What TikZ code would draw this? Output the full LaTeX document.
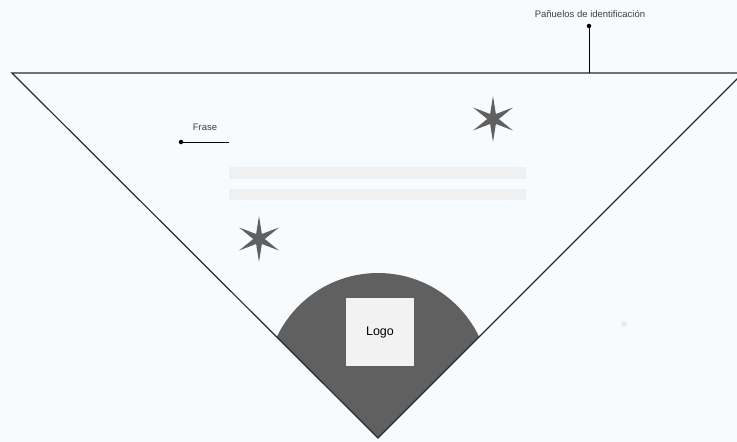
\documentclass[tikz,border=0pt]{standalone}
\usepackage{fontspec}
\setmainfont{Liberation Sans}
\usetikzlibrary{shapes.geometric}
\definecolor{bgc}{HTML}{F7FBFE}
\definecolor{darkf}{HTML}{606060}
\definecolor{barc}{HTML}{F0F0F0}
\definecolor{logoc}{HTML}{F2F2F2}
\definecolor{linec}{HTML}{2A2A2A}
\tikzset{
  edge/.style={draw=linec, line width=1.2pt},
  lead/.style={draw=black, line width=1pt},
  dotc/.style={circle, fill=black, inner sep=0pt, minimum size=4.5pt},
  lbl/.style={font=\fontsize{9.5}{10}\selectfont, text=black!75, inner sep=0pt},
  starbox/.style={star, star points=6, star point ratio=4, fill=darkf, inner sep=0pt, minimum size=46pt, draw=none},
  barbox/.style={fill=barc, draw=none}
}
\begin{document}
\begin{tikzpicture}[x=1pt,y=-1pt]
\useasboundingbox[fill=bgc] (0,0) rectangle (737,442);
\coordinate (tl) at (12,73);
\coordinate (tr) at (743,73);
\coordinate (ap) at (378,438);
\begin{scope}
  \clip (tl) -- (tr) -- (ap) -- cycle;
  \fill[darkf] (378,385) circle (112);
\end{scope}
\draw[edge, line join=miter] (tl) -- (tr) -- (ap) -- cycle;
% logo
\node[fill=logoc, minimum width=68pt, minimum height=68pt, inner sep=0pt,
  font=\fontsize{12.5}{14}\selectfont] (logo) at (380,332) {Logo};
% bars
\fill[barbox] (229,167) rectangle (526,179);
\fill[barbox] (229,189) rectangle (526,200);
% stars
\node[starbox] (s1) at (259,239) {};
\node[starbox] (s2) at (493,119) {};
% label top
\node[lbl] (pl) at (590,14) {Pañuelos de identificación};
\node[dotc] (pd) at (589,26) {};
\coordinate (pb) at (589,73);
\draw[lead] (pd.center) -- (pb);
% frase
\node[lbl] (fl) at (205,127) {Frase};
\node[dotc] (fd) at (181,142) {};
\coordinate (fe) at (229,142);
\draw[lead] (fd.center) -- (fe);
% faint spot
\fill[black!8] (624,324) circle (3);
\end{tikzpicture}
\end{document}
